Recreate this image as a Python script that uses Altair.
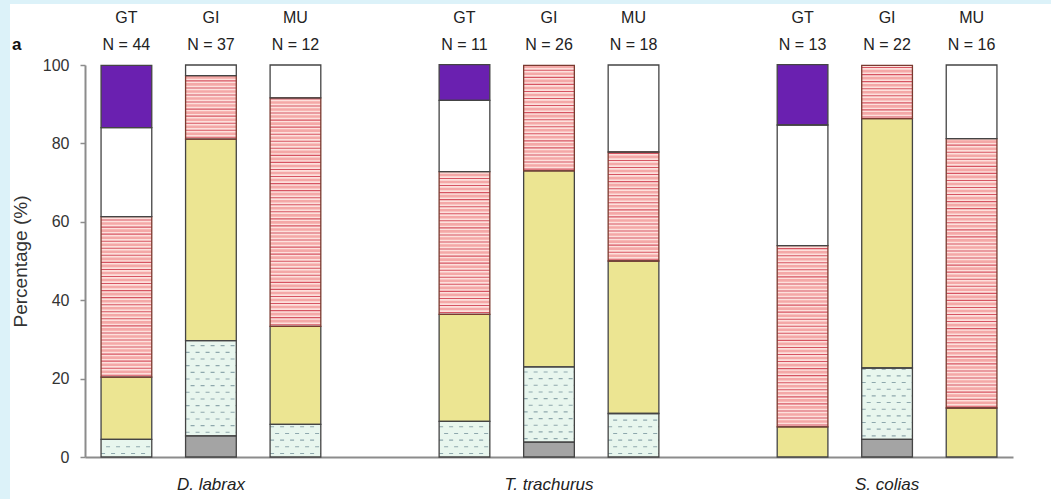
import altair as alt
import pandas as pd

# Groups and tissues (x layout) with the sample size above each bar
species = ["D. labrax", "T. trachurus", "S. colias"]
tissues = ["GT", "GI", "MU"]
sample_sizes = [44, 37, 12, 11, 26, 18, 13, 22, 16]

# Stacked categories, bottom to top
categories = ["grey", "dotted", "yellow", "striped", "open", "purple"]
fills = ["#a4a4a4", "#e8f6ee", "#ece592", "#fde0dc", "#ffffff", "#6a20b0"]

# Percentage of each category per bar (bar order: species x tissue)
grey = [0.0, 5.4, 0.0, 0.0, 3.8, 0.0, 0.0, 4.5, 0.0]
dotted = [4.5, 24.3, 8.3, 9.1, 19.2, 11.1, 0.0, 18.2, 0.0]
yellow = [15.9, 51.4, 25.0, 27.3, 50.0, 38.9, 7.7, 63.6, 12.5]
striped = [40.9, 16.2, 58.3, 36.4, 26.9, 27.8, 46.2, 13.6, 68.7]
open_ = [22.7, 2.7, 8.4, 18.2, 0.0, 22.2, 30.8, 0.0, 18.8]
purple = [15.9, 0.0, 0.0, 9.1, 0.0, 0.0, 15.4, 0.0, 0.0]

series = [grey, dotted, yellow, striped, open_, purple]

# x slots: one per bar, plus an empty slot between species groups
slots = [f"{sp}|{t}" for sp in species for t in tissues]
slot_domain = slots[0:3] + ["gap 1"] + slots[3:6] + ["gap 2"] + slots[6:9]

rows = []
for i, slot in enumerate(slots):
    for k, cat in enumerate(categories):
        v = series[k][i]
        if v > 0:
            rows.append({"slot": slot, "category": cat, "order": k, "value": v})
df = pd.DataFrame(rows)

top = pd.DataFrame({
    "slot": slots,
    "tissue": [t for _ in species for t in tissues],
    "n": [f"N = {n}" for n in sample_sizes],
})

FONT = "Liberation Sans"
AXIS_GREY = "#8c8c8c"

x_scale = alt.Scale(domain=slot_domain, paddingInner=0.4, paddingOuter=0.19)
y_scale = alt.Scale(domain=[0, 100], nice=False)

x_axis = alt.Axis(
    title=None, ticks=False, labelAngle=0, labelFontSize=17, labelFontStyle="italic",
    labelColor="#222", labelPadding=19, domainColor=AXIS_GREY, domainWidth=2,
    labelExpr="indexof(datum.value, '|GI') > 0 ? split(datum.value, '|')[0] : ''",
    labelOverlap=False,
)
y_axis = alt.Axis(
    title="Percentage (%)", values=[0, 20, 40, 60, 80, 100], grid=False, tickSize=5,
    tickColor=AXIS_GREY, tickWidth=1.5, domainColor=AXIS_GREY, domainWidth=2,
    labelFontSize=16, labelColor="#333", labelPadding=11,
    titleFontSize=19, titleFontWeight="normal", titleColor="#333", titlePadding=12,
)


def xs(**kw):
    return alt.X("slot:N", scale=x_scale, axis=x_axis, sort=slot_domain, **kw)


def ys(field):
    return alt.Y(field, scale=y_scale, axis=y_axis)


stacked = alt.Chart(df).transform_stack(
    stack="value", groupby=["slot"], as_=["y0", "y1"],
    sort=[alt.SortField("order", order="ascending")],
)

# Solid fills of the segments
bars = stacked.mark_bar(strokeWidth=0).encode(
    x=xs(),
    y=ys("y0:Q"),
    y2="y1:Q",
    color=alt.Color("category:N", scale=alt.Scale(domain=categories, range=fills), legend=None),
)

band_x2 = alt.X2("slot", bandPosition=1)


def hatch(src, start, step, **mark):
    return src.transform_calculate(
        line=f"sequence(datum.y0 + {start}, datum.y1 - 0.2, {step})"
    ).transform_flatten(["line"]).mark_rule(**mark).encode(
        x=xs(bandPosition=0), x2=band_x2, y=ys("line:Q"),
    )


# Horizontal red hatching of the striped segments
stripe_src = stacked.transform_filter(alt.datum.category == "striped")
pink_bands = hatch(stripe_src, 1.35, 1.8, color="#f4a8a7", strokeWidth=2.6)
red_lines = hatch(stripe_src, 0.45, 1.8, color="#d65462", strokeWidth=1.1)

# Staggered dashes of the dotted segments
dot_src = stacked.transform_filter(alt.datum.category == "dotted")
dash_a = hatch(dot_src, 0.9, 3.4, color="#8ea8ad", strokeWidth=1.1, strokeDash=[4, 6], strokeDashOffset=0)
dash_b = hatch(dot_src, 2.6, 3.4, color="#8ea8ad", strokeWidth=1.1, strokeDash=[4, 6], strokeDashOffset=5)

# Segment outlines drawn over the textures
outlines = stacked.mark_bar(fillOpacity=0, strokeWidth=1.3).encode(
    x=xs(),
    y=ys("y0:Q"),
    y2="y1:Q",
    stroke=alt.condition(alt.datum.category == "striped", alt.value("#7a3a30"), alt.value("#444444")),
)

# Tissue code and sample size above each bar
tissue_text = alt.Chart(top).mark_text(fontSize=16, color="#222", font=FONT, baseline="middle").encode(
    x=xs(), y=alt.value(-47), text="tissue:N",
)
n_text = alt.Chart(top).mark_text(fontSize=16, color="#222", font=FONT, baseline="middle").encode(
    x=xs(), y=alt.value(-20), text="n:N",
)

panel = alt.Chart(pd.DataFrame({"panel": ["a"]})).mark_text(
    fontSize=17, fontWeight="bold", color="#111", font=FONT, align="left", baseline="middle"
).encode(x=alt.value(-73), y=alt.value(-20), text="panel:N")

# Light cyan frame strips along the left and top edges
frame_df = pd.DataFrame({"edge": ["left", "top"]})
frame_left = alt.Chart(frame_df).transform_filter(alt.datum.edge == "left").mark_rect(color="#dcf2f9").encode(
    x=alt.value(-85), x2=alt.value(-75), y=alt.value(-65), y2=alt.value(434)
)
frame_top = alt.Chart(frame_df).transform_filter(alt.datum.edge == "top").mark_rect(color="#dcf2f9").encode(
    x=alt.value(-85), x2=alt.value(966), y=alt.value(-65), y2=alt.value(-61)
)

chart = alt.layer(
    bars, pink_bands, red_lines, dash_a, dash_b, outlines,
    tissue_text, n_text, panel, frame_left, frame_top,
).properties(
    width=928,
    height=392,
    autosize=alt.AutoSizeParams(type="none"),
    padding={"left": 85, "top": 65, "right": 38, "bottom": 42},
    background="white",
).configure(font=FONT, view=alt.ViewConfig(stroke=None))

chart.save("out.html", embed_options={"renderer": "svg", "actions": False})
